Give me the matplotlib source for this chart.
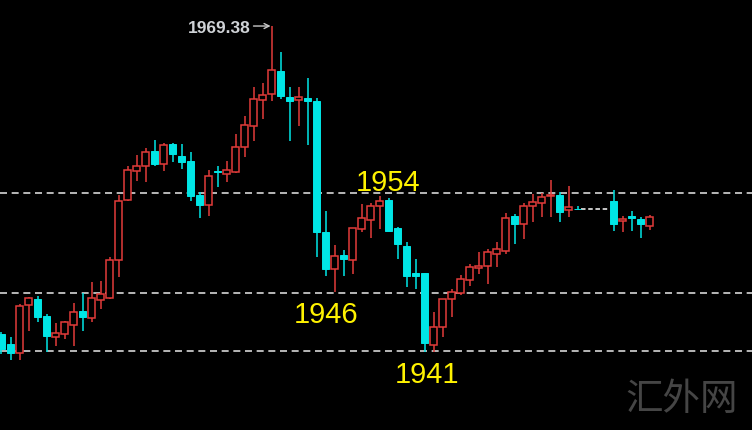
import numpy as np
import matplotlib.pyplot as plt

nan = np.nan

# OHLC, one candle per slot (three empty slots near the end)
opens = [1942.48, 1941.61, 1940.83, 1945.02, 1945.54, 1944.06, 1942.22, 1942.48, 1943.27, 1944.49,
         1943.88, 1945.45, 1945.63, 1948.95, 1954.19, 1956.72, 1957.15, 1958.46, 1957.33, 1959.08,
         1958.03, 1957.59, 1954.62, 1953.75, 1956.72, 1956.46, 1956.63, 1958.81, 1960.65, 1962.92,
         1963.44, 1965.45, 1963.18, 1962.92, 1963.09, 1962.83, 1951.39, 1948.16, 1949.38, 1948.95,
         1951.65, 1952.44, 1953.66, 1954.19, 1951.74, 1950.17, 1947.81, 1947.81, 1941.52, 1943.10,
         1945.54, 1946.06, 1947.20, 1948.25, 1948.42, 1949.47, 1949.73, 1952.79, 1952.09, 1953.66,
         1953.92, 1954.54, 1954.62, 1953.31, 1953.40, nan, nan, nan, 1954.10, 1952.35,
         1952.79, 1952.53, 1951.92]
highs = [1942.66, 1942.22, 1945.10, 1945.72, 1945.80, 1944.23, 1943.44, 1943.62, 1945.19, 1946.06,
         1947.03, 1947.11, 1949.21, 1954.62, 1957.15, 1958.11, 1958.73, 1959.42, 1959.16, 1959.16,
         1959.08, 1958.38, 1954.88, 1956.80, 1957.15, 1957.59, 1959.95, 1961.52, 1964.05, 1964.40,
         1969.38, 1967.11, 1964.05, 1964.05, 1964.84, 1963.09, 1953.22, 1950.26, 1949.82, 1951.74,
         1953.84, 1953.92, 1954.54, 1954.36, 1951.83, 1950.52, 1949.03, 1947.85, 1944.41, 1945.54,
         1946.41, 1947.64, 1948.60, 1949.64, 1949.91, 1950.52, 1953.05, 1952.96, 1953.92, 1954.71,
         1954.80, 1955.93, 1954.88, 1955.41, 1953.66, nan, nan, nan, 1955.06, 1952.79,
         1953.22, 1952.70, 1952.88]
lows = [1940.74, 1940.21, 1940.21, 1942.75, 1943.53, 1940.91, 1941.44, 1942.05, 1941.44, 1942.75,
        1943.53, 1944.67, 1945.54, 1947.46, 1954.10, 1955.84, 1955.76, 1957.15, 1956.72, 1957.50,
        1956.89, 1954.10, 1952.61, 1952.79, 1955.32, 1955.76, 1956.55, 1957.94, 1959.34, 1961.26,
        1962.83, 1963.00, 1959.34, 1960.65, 1958.99, 1949.21, 1947.55, 1946.15, 1947.55, 1947.72,
        1951.39, 1950.87, 1951.65, 1951.45, 1949.03, 1946.59, 1946.41, 1940.91, 1940.91, 1942.22,
        1943.97, 1945.89, 1946.68, 1947.72, 1946.85, 1948.33, 1949.47, 1950.34, 1950.78, 1952.26,
        1952.70, 1952.70, 1952.26, 1952.70, 1953.31, nan, nan, nan, 1951.48, 1951.39,
        1951.48, 1950.87, 1951.57]
closes = [1941.17, 1940.83, 1944.93, 1945.63, 1943.97, 1942.31, 1942.57, 1943.53, 1944.41, 1943.97,
          1945.63, 1945.98, 1948.95, 1954.10, 1956.80, 1957.15, 1958.38, 1957.33, 1958.99, 1958.20,
          1957.50, 1954.54, 1953.75, 1956.28, 1956.63, 1956.80, 1958.81, 1960.73, 1963.00, 1963.35,
          1965.54, 1963.27, 1962.83, 1963.18, 1962.83, 1951.39, 1948.16, 1949.30, 1949.03, 1951.74,
          1952.61, 1953.66, 1954.10, 1951.48, 1950.34, 1947.55, 1947.55, 1941.70, 1943.10, 1945.54,
          1946.15, 1947.29, 1948.33, 1948.42, 1949.64, 1949.91, 1952.61, 1952.09, 1953.66, 1954.01,
          1954.45, 1954.62, 1953.14, 1953.57, 1953.38, nan, nan, nan, 1952.09, 1952.53,
          1952.61, 1952.09, 1952.70]

levels = [1954.80, 1946.06, 1941.00]
level_labels = ['1954', '1946', '1941']
peak_label = '1969.38'
watermark = '汇外网'

RED = '#e23c3a'
CYAN = '#00e6e6'
GREY = '#b8b8b8'
YELLOW = '#fff200'

o = np.array(opens)
h = np.array(highs)
l = np.array(lows)
c = np.array(closes)
x = np.arange(len(o))
ok = ~np.isnan(o)
up = ok & (c >= o)
dn = ok & (c < o)

fig = plt.figure(figsize=(7.52, 4.31), dpi=100, facecolor='black')
ax = fig.add_axes([0, 0, 1, 1])
ax.set_facecolor('black')

# support / resistance lines
for lv in levels:
    ax.axhline(lv, color=GREY, lw=1.4, ls=(0, (3.6, 2.4)), zorder=1)

# wicks
ax.vlines(x[up], l[up], h[up], color=RED, lw=1.1, zorder=2)
ax.vlines(x[dn], l[dn], h[dn], color=CYAN, lw=1.1, zorder=2)

# bodies: hollow red for up, filled cyan for down
body_lo = np.fmin(o, c)
body_h = np.maximum(np.abs(c - o), 0.03)
ax.bar(x[up], body_h[up], bottom=body_lo[up], width=0.68,
       facecolor='black', edgecolor=RED, lw=1.1, zorder=3)
ax.bar(x[dn], body_h[dn], bottom=body_lo[dn], width=0.72,
       color=CYAN, edgecolor=CYAN, lw=0.7, zorder=3)

# gap with no candles, drawn as a flat dashed segment
gap = np.where(~ok)[0]
last = gap[0] - 1
ax.hlines(c[last], gap[0] - 0.6, gap[-1] + 0.4, color='#d8d8d8', lw=1.3,
          ls=(0, (2.5, 1.5)), zorder=2)

# peak annotation
top = int(np.nanargmax(h))
ax.text(top - 2.3, h[top] - 0.5, peak_label, ha='right', va='baseline',
        color='#cfd2d6', fontsize=12.5, fontweight='bold', family='Liberation Sans')
ax.annotate('', xy=(top - 0.1, h[top]), xytext=(top - 2.0, h[top]),
            arrowprops=dict(arrowstyle='->', color='#c8c8c8', lw=1.0,
                            shrinkA=0, shrinkB=0, mutation_scale=9))

# yellow level labels
ax.text(42.9, 1955.06, level_labels[0], ha='center', va='baseline', color=YELLOW,
        fontsize=21, family='Liberation Sans')
ax.text(36.1, 1943.53, level_labels[1], ha='center', va='baseline', color=YELLOW,
        fontsize=21, family='Liberation Sans')
ax.text(47.3, 1938.29, level_labels[2], ha='center', va='baseline', color=YELLOW,
        fontsize=21, family='Liberation Sans')

fig.text(0.907, 0.072, watermark, ha='center', va='center', color='#454545',
         fontsize=27, family=['Noto Sans CJK SC', 'DejaVu Sans'], fontweight='light')

ax.set_xlim(-1.5 / 9, 750.5 / 9)
ax.set_ylim(1934.10, 1971.74)
ax.axis('off')

fig.savefig('out.png', dpi=100, facecolor='black')
